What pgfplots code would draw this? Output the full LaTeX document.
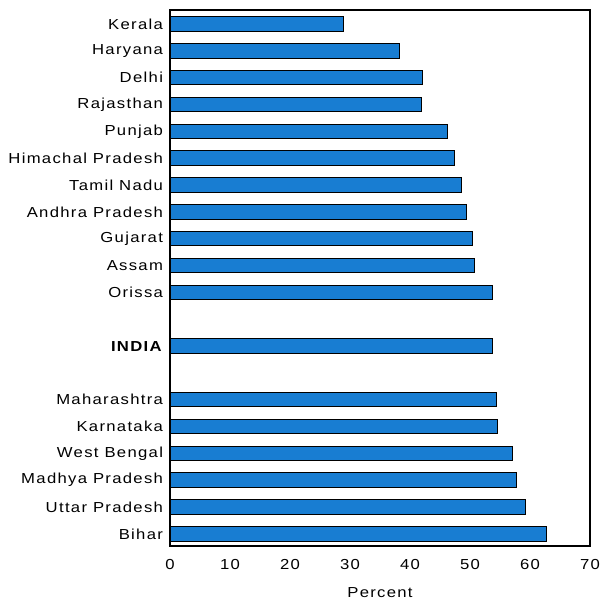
\documentclass[border=0pt]{standalone}
\usepackage{fontspec}
\setmainfont{Liberation Sans}[FakeStretch=1.15,LetterSpace=9]
\usepackage{pgfplots}
\pgfplotsset{compat=1.18}
\usepackage{pgfplotstable}
\definecolor{barblue}{RGB}{24,125,210}
\pgfplotstableread{
pos value
0 28.9
1 38.3
2 42.0
3 41.9
4 46.3
5 47.4
6 48.5
7 49.4
8 50.4
9 50.7
10 53.7
12 53.7
14 54.4
15 54.5
16 57.1
17 57.7
18 59.2
19 62.8
}\datatable
\begin{document}
\fontsize{14.5pt}{16pt}\selectfont
\begin{tikzpicture}
\useasboundingbox (0pt,0pt) rectangle (600pt,602pt);
\begin{axis}[
  at={(170pt,56pt)}, anchor=south west,
  scale only axis, width=420pt, height=536pt,
  xbar, bar width=14.5pt,
  xmin=0, xmax=70, xtick={0,10,...,70},
  ymin=-0.52, ymax=19.45, y dir=reverse,
  ytick={0,1,2,3,4,5,6,7,8,9,10,12,14,15,16,17,18,19},
  yticklabels={Kerala,Haryana,Delhi,Rajasthan,Punjab,Himachal Pradesh,Tamil Nadu,Andhra Pradesh,Gujarat,Assam,Orissa,\textbf{INDIA},Maharashtra,Karnataka,West Bengal,Madhya Pradesh,Uttar Pradesh,Bihar},
  major tick length=0pt,
  axis line style={black, line width=1.2pt},
  /pgf/number format/assume math mode=true,
  tick label style={font=\fontsize{14.5pt}{16pt}\selectfont},
  xticklabel style={yshift=-8pt},
  yticklabel style={xshift=-2pt},
  xlabel={Percent},
  xlabel style={font=\fontsize{14.5pt}{16pt}\selectfont, yshift=-8pt},
]
\addplot[fill=barblue, draw=black, line width=1pt] table[x=value, y=pos] {\datatable};
\end{axis}
\end{tikzpicture}
\end{document}
